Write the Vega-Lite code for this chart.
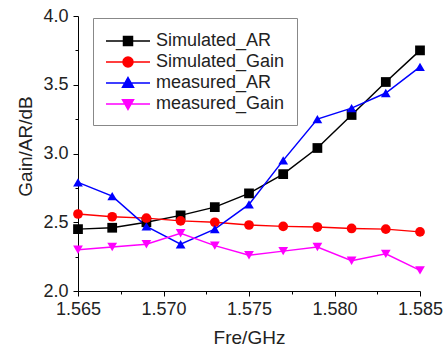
{
  "$schema": "https://vega.github.io/schema/vega-lite/v6.json",
  "width": 342,
  "height": 275,
  "autosize": {"type": "none"},
  "padding": {"left": 78, "top": 16, "right": 26, "bottom": 59},
  "config": {"view": {"stroke": null}, "font": "Liberation Sans"},
  "data": {"values": [
    {"f": 1.565, "s": "Simulated_AR", "v": 2.45},
    {"f": 1.567, "s": "Simulated_AR", "v": 2.46},
    {"f": 1.569, "s": "Simulated_AR", "v": 2.50},
    {"f": 1.571, "s": "Simulated_AR", "v": 2.55},
    {"f": 1.573, "s": "Simulated_AR", "v": 2.61},
    {"f": 1.575, "s": "Simulated_AR", "v": 2.71},
    {"f": 1.577, "s": "Simulated_AR", "v": 2.85},
    {"f": 1.579, "s": "Simulated_AR", "v": 3.04},
    {"f": 1.581, "s": "Simulated_AR", "v": 3.28},
    {"f": 1.583, "s": "Simulated_AR", "v": 3.52},
    {"f": 1.585, "s": "Simulated_AR", "v": 3.75},
    {"f": 1.565, "s": "Simulated_Gain", "v": 2.56},
    {"f": 1.567, "s": "Simulated_Gain", "v": 2.54},
    {"f": 1.569, "s": "Simulated_Gain", "v": 2.53},
    {"f": 1.571, "s": "Simulated_Gain", "v": 2.51},
    {"f": 1.573, "s": "Simulated_Gain", "v": 2.50},
    {"f": 1.575, "s": "Simulated_Gain", "v": 2.48},
    {"f": 1.577, "s": "Simulated_Gain", "v": 2.47},
    {"f": 1.579, "s": "Simulated_Gain", "v": 2.465},
    {"f": 1.581, "s": "Simulated_Gain", "v": 2.455},
    {"f": 1.583, "s": "Simulated_Gain", "v": 2.45},
    {"f": 1.585, "s": "Simulated_Gain", "v": 2.43},
    {"f": 1.565, "s": "measured_AR", "v": 2.79},
    {"f": 1.567, "s": "measured_AR", "v": 2.69},
    {"f": 1.569, "s": "measured_AR", "v": 2.47},
    {"f": 1.571, "s": "measured_AR", "v": 2.34},
    {"f": 1.573, "s": "measured_AR", "v": 2.45},
    {"f": 1.575, "s": "measured_AR", "v": 2.63},
    {"f": 1.577, "s": "measured_AR", "v": 2.95},
    {"f": 1.579, "s": "measured_AR", "v": 3.25},
    {"f": 1.581, "s": "measured_AR", "v": 3.33},
    {"f": 1.583, "s": "measured_AR", "v": 3.44},
    {"f": 1.585, "s": "measured_AR", "v": 3.63},
    {"f": 1.565, "s": "measured_Gain", "v": 2.30},
    {"f": 1.567, "s": "measured_Gain", "v": 2.32},
    {"f": 1.569, "s": "measured_Gain", "v": 2.34},
    {"f": 1.571, "s": "measured_Gain", "v": 2.42},
    {"f": 1.573, "s": "measured_Gain", "v": 2.33},
    {"f": 1.575, "s": "measured_Gain", "v": 2.26},
    {"f": 1.577, "s": "measured_Gain", "v": 2.29},
    {"f": 1.579, "s": "measured_Gain", "v": 2.32},
    {"f": 1.581, "s": "measured_Gain", "v": 2.22},
    {"f": 1.583, "s": "measured_Gain", "v": 2.27},
    {"f": 1.585, "s": "measured_Gain", "v": 2.15}
  ]},
  "layer": [
    {
      "mark": {"type": "line", "strokeWidth": 1.5},
      "encoding": {
        "x": {"field": "f", "type": "quantitative", "scale": {"domain": [1.565, 1.585], "nice": false, "zero": false}, "axis": null},
        "y": {"field": "v", "type": "quantitative", "scale": {"domain": [2, 4], "nice": false, "zero": false}, "axis": null},
        "color": {"field": "s", "type": "nominal",
          "scale": {"domain": ["Simulated_AR", "Simulated_Gain", "measured_AR", "measured_Gain"], "range": ["#000000", "#ff0000", "#0000ff", "#ff00ff"]},
          "legend": {
            "title": null, "orient": "none", "legendX": 15, "legendY": 2,
            "strokeColor": "#888", "fillColor": "#ffffff", "padding": 12,
            "labelFontSize": 18, "labelFont": "Liberation Sans", "labelColor": "#222", "labelOffset": 29,
            "symbolSize": 400, "symbolStrokeWidth": 1.5, "rowPadding": 1,
            "encode": {"symbols": {"update": {
              "shape": {"signal": "datum.value === 'Simulated_AR' ? 'M-1,0H3.4M0.75,-0.45H1.65V0.45H0.75Z' : datum.value === 'Simulated_Gain' ? 'M-1,0H3.4M0.7,0A0.5,0.5,0,1,1,1.7,0A0.5,0.5,0,1,1,0.7,0Z' : datum.value === 'measured_AR' ? 'M-1,0H3.4M1.2,-0.55L1.75,0.42L0.65,0.42Z' : 'M-1,0H3.4M1.2,0.55L1.75,-0.42L0.65,-0.42Z'"},
              "stroke": {"signal": "scale('color', datum.value)"},
              "fill": {"signal": "scale('color', datum.value)"},
              "strokeWidth": {"value": 1.5}
            }}}
          }},
        "detail": {"field": "s"}
      }
    },
    {
      "mark": {"type": "point", "filled": true, "opacity": 1, "size": 95},
      "encoding": {
        "x": {"field": "f", "type": "quantitative", "title": "Fre/GHz",
          "axis": {"orient": "bottom", "values": [1.565, 1.57, 1.575, 1.58, 1.585], "format": ".3f", "labelFlush": false, "grid": false, "domainColor": "#000", "tickColor": "#000", "tickSize": 5, "labelFontSize": 18, "labelColor": "#222", "labelPadding": 4, "titleFontSize": 19, "titleFontWeight": "normal", "titleColor": "#222", "titlePadding": 10, "labelFont": "Liberation Sans", "titleFont": "Liberation Sans"}},
        "y": {"field": "v", "type": "quantitative", "title": "Gain/AR/dB",
          "axis": {"orient": "left", "values": [2, 2.5, 3, 3.5, 4], "format": ".1f", "labelFlush": false, "grid": false, "domainColor": "#000", "tickColor": "#000", "tickSize": 5, "labelFontSize": 18, "labelColor": "#222", "labelPadding": 5, "titleFontSize": 19, "titleFontWeight": "normal", "titleColor": "#222", "titlePadding": 7, "titleY": 130, "labelFont": "Liberation Sans", "titleFont": "Liberation Sans"}},
        "color": {"field": "s", "type": "nominal"},
        "shape": {"field": "s", "type": "nominal", "legend": null,
          "scale": {"domain": ["Simulated_AR", "Simulated_Gain", "measured_AR", "measured_Gain"], "range": ["square", "circle", "triangle-up", "triangle-down"]}}
      }
    },
    {
      "mark": {"type": "point", "opacity": 0},
      "encoding": {
        "x": {"field": "f", "type": "quantitative",
          "axis": {"orient": "bottom", "values": [1.5675, 1.5725, 1.5775, 1.5825], "labels": false, "domain": false, "grid": false, "tickColor": "#000", "tickSize": 3, "title": null}},
        "y": {"field": "v", "type": "quantitative",
          "axis": {"orient": "left", "values": [2.25, 2.75, 3.25, 3.75], "labels": false, "domain": false, "grid": false, "tickColor": "#000", "tickSize": 3, "title": null}}
      }
    }
  ],
  "resolve": {"axis": {"x": "independent", "y": "independent"}, "legend": {"color": "independent", "shape": "independent"}}
}
